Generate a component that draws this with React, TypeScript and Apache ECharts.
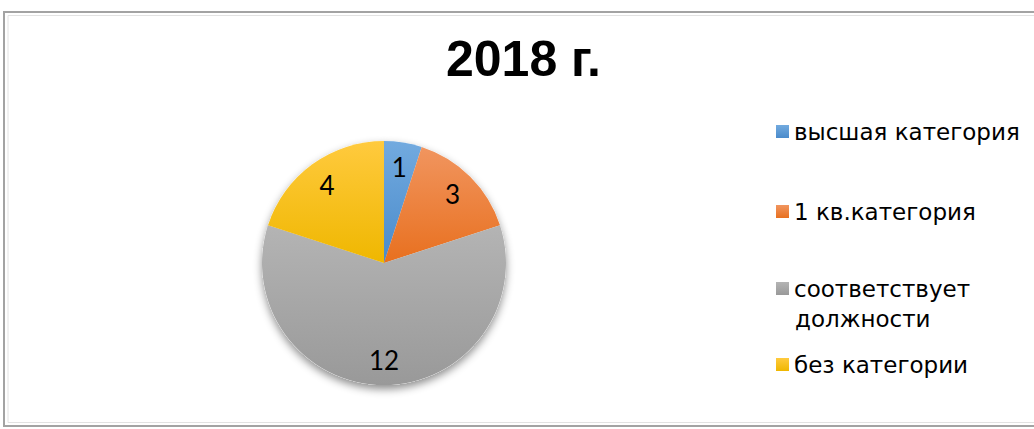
import React, { useEffect, useRef } from "react";
import * as echarts from "echarts";

const titleText = "2018 г.";
const categories = ["высшая категория", "1 кв.категория", "соответствует должности", "без категории"];
const legendLabels = ["высшая категория", "1 кв.категория", "соответствует", "без категории"];
const legendSecondLine = "должности";
const values = [1, 3, 12, 4];
const topColors = ["#72AADF", "#F1955F", "#B4B4B4", "#FFCA3E"];
const bottomColors = ["#4A8BCB", "#E8701F", "#999999", "#EFB700"];

export default function App() {
  const ref = useRef<HTMLDivElement>(null);
  useEffect(() => {
    document.body.style.margin = "0";
    const chart = echarts.init(ref.current!, undefined, { renderer: "svg" });
    const grad = (i: number) =>
      new echarts.graphic.LinearGradient(0, 0, 0, 1, [
        { offset: 0, color: topColors[i] },
        { offset: 1, color: bottomColors[i] },
      ]);
    const mainData = categories.map((name, i) => ({
      name,
      value: values[i],
      itemStyle: { color: grad(i) },
    }));
    const legendTops = [116, 196, 273, 349];
    const legendFont = { fontFamily: "DejaVu Sans", fontSize: 23, color: "#000", lineHeight: 31 };
    chart.setOption({
      animation: false,
      backgroundColor: "#fff",
      title: {
        text: titleText,
        left: 446,
        top: 34,
        padding: 0,
        textStyle: { fontFamily: "Liberation Sans", fontWeight: "bold", fontSize: 50, color: "#000" },
      },
      legend: categories.map((name, i) => ({
        data: [name],
        orient: "vertical",
        left: 776,
        top: legendTops[i],
        padding: 0,
        itemWidth: 13,
        itemHeight: 13,
        itemGap: 0,
        icon: "rect",
        selectedMode: false,
        formatter: () => legendLabels[i],
        textStyle: legendFont,
      })),
      graphic: [
        {
          type: "rect",
          silent: true,
          shape: { x: 4, y: 12, width: 1040, height: 414 },
          style: { fill: "none", stroke: "#a3a3a3", lineWidth: 2 },
        },
        {
          type: "rect",
          silent: true,
          shape: { x: 8, y: 15.5, width: 1040, height: 407 },
          style: { fill: "none", stroke: "#e2e2e2", lineWidth: 1 },
        },
        {
          type: "text",
          silent: true,
          style: {
            x: 795,
            y: 319,
            text: legendSecondLine,
            fontFamily: "DejaVu Sans",
            fontSize: 23,
            fill: "#000",
            verticalAlign: "middle",
          },
        },
      ],
      series: [
        {
          type: "pie",
          center: [384, 263],
          radius: [0, 122],
          startAngle: 90,
          clockwise: true,
          z: 3,
          silent: true,
          label: { show: false },
          labelLine: { show: false },
          itemStyle: { borderWidth: 0 },
          data: mainData,
        },
        {
          type: "pie",
          center: [384, 263],
          radius: [0, 122],
          startAngle: 90,
          z: 1,
          silent: true,
          label: { show: false },
          labelLine: { show: false },
          itemStyle: {
            color: "#ffffff",
            shadowBlur: 8,
            shadowOffsetY: 4,
            shadowColor: "rgba(0,0,0,0.45)",
          },
          data: categories.map((name, i) => ({ name, value: values[i] })),
        },
        {
          type: "pie",
          center: [384, 263],
          radius: [66, 122],
          startAngle: 90,
          z: 4,
          silent: true,
          itemStyle: { color: "rgba(0,0,0,0)" },
          label: {
            show: true,
            position: "inside",
            formatter: "{c}",
            fontFamily: "Lato",
            fontSize: 26,
            color: "#000",
          },
          labelLine: { show: false },
          data: categories.map((name, i) => ({ name, value: values[i] })),
        },
      ],
    });
    return () => chart.dispose();
  }, []);
  return <div ref={ref} style={{ width: 1034, height: 429 }} />;
}
